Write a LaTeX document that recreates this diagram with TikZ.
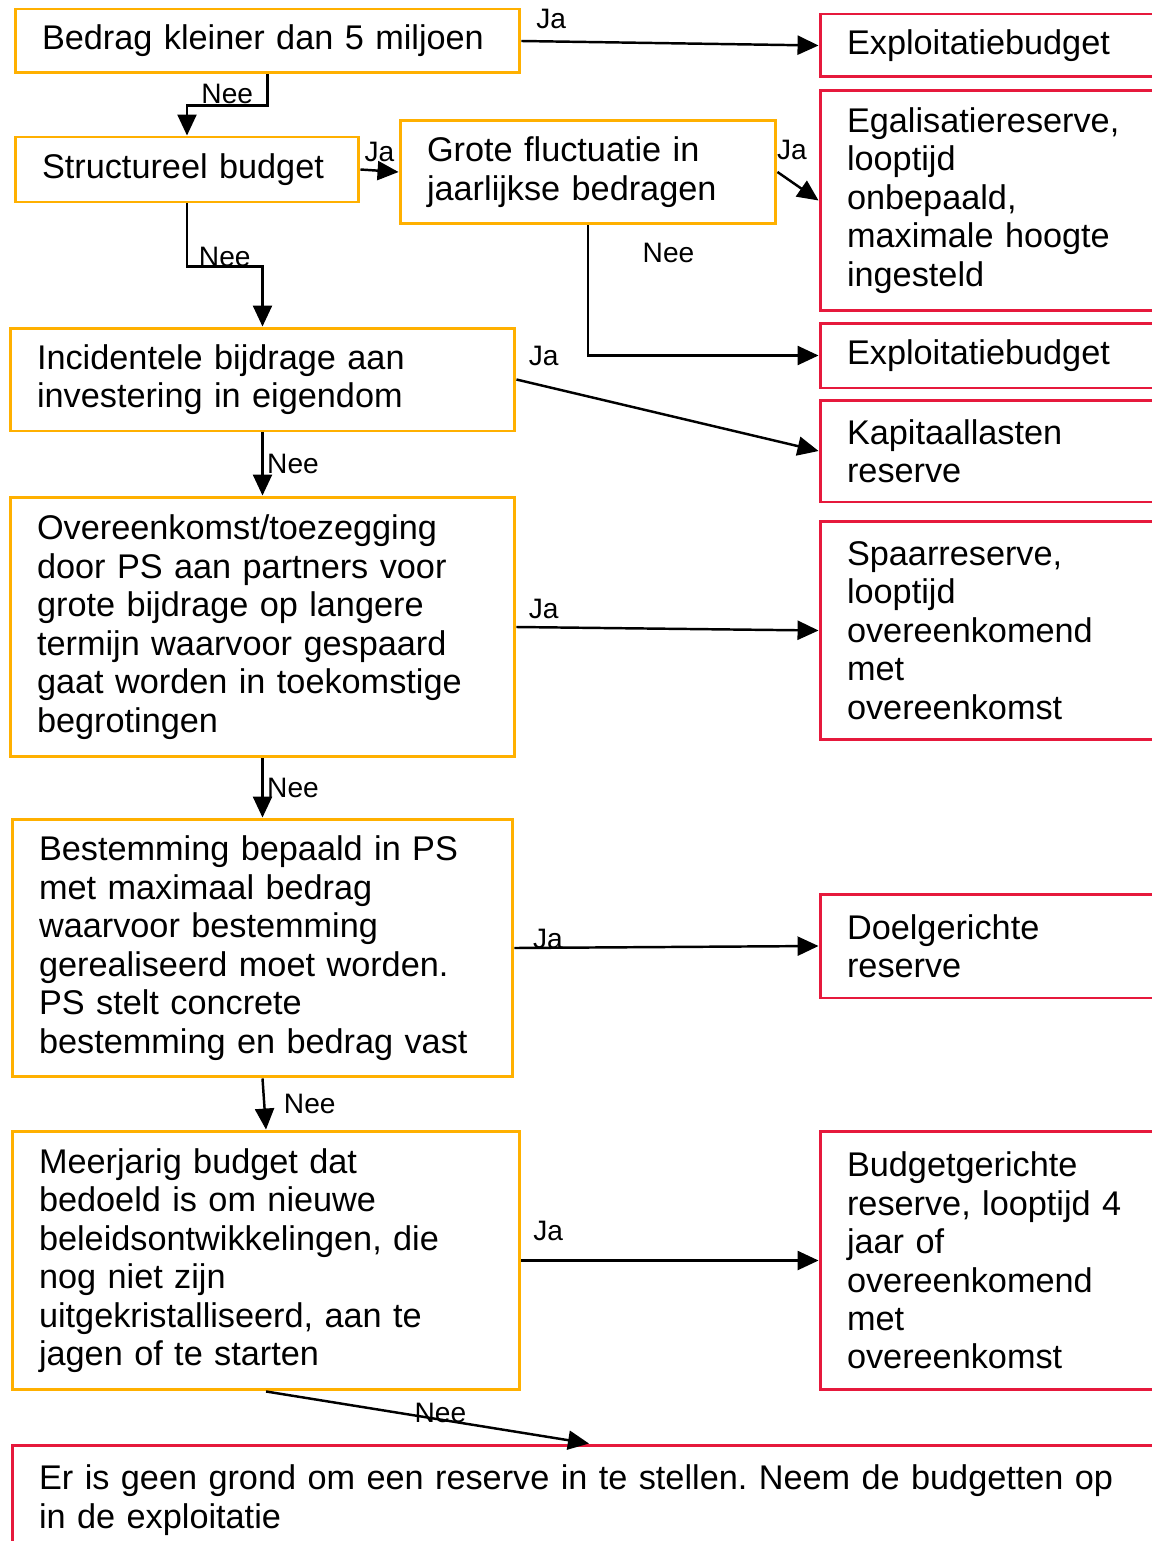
\documentclass[tikz,border=0pt]{standalone}
\usepackage{fontspec}
\setmainfont{Liberation Sans}
\usepackage{xcolor}
\definecolor{kvorange}{RGB}{255,176,0}
\definecolor{kvred}{RGB}{230,25,60}
\usetikzlibrary{arrows.meta,positioning}
\newcommand{\kvboxfont}{\fontsize{19.5}{21.9}\selectfont\frenchspacing}
\newcommand{\kvlblfont}{\fontsize{16}{18}\selectfont}

\begin{document}
\begin{tikzpicture}[x=0.02cm,y=-0.02cm,
  kvvraag/.style={draw=kvorange,line width=1.7pt,align=left,inner xsep=0.54cm,
    inner ysep=0.1cm,font=\kvboxfont},
  kvuitkomst/.style={draw=kvred,line width=1.7pt,align=left,inner xsep=0.54cm,
    inner ysep=0.1cm,text width=6.4cm,font=\kvboxfont},
  kvpijl/.style={-{Triangle[length=0.42cm,width=0.38cm]},line width=1.4pt},
  kvlbl/.style={font=\kvlblfont,inner sep=2pt}
]
  \useasboundingbox (0,0) rectangle (1152,1541);
  \clip (0,0) rectangle (1152,1541);
  % Vraag 1: Bedrag
  \node[kvvraag,text width=9.02cm,minimum height=1.28cm] (q1) at (267.5,41) {%
    Bedrag kleiner dan 5 miljoen};
  % Vraag 2: Structureel
  \node[kvvraag,text width=5.8cm,minimum height=1.3cm] (q2) at (187,169.5) {%
    Structureel budget};
  % Vraag 3: Fluctuatie
  \node[kvvraag,text width=6.44cm,minimum height=2.08cm] (q3) at (588,172) {%
    Grote fluctuatie in\\jaarlijkse bedragen};
  % Vraag 4: Investering
  \node[kvvraag,text width=9.02cm,minimum height=2.06cm] (q4) at (262.5,379.5) {%
    Incidentele bijdrage aan\\investering in eigendom};
  % Vraag 5: Overeenkomst
  \node[kvvraag,text width=9.02cm,minimum height=5.2cm] (q5) at (262.5,627) {%
    Overeenkomst/toezegging\\door PS aan partners voor\\grote bijdrage op langere\\%
    termijn waarvoor gespaard\\gaat worden in toekomstige\\begrotingen};
  % Vraag 6: Bestemming
  \node[kvvraag,text width=8.94cm,minimum height=5.16cm] (q6) at (262.5,948) {%
    Bestemming bepaald in PS\\met maximaal bedrag\\waarvoor bestemming\\%
    gerealiseerd moet worden.\\PS stelt concrete\\bestemming en bedrag vast};
  % Vraag 7: Meerjarig budget
  \node[kvvraag,text width=9.08cm,minimum height=5.18cm] (q7) at (266,1260.5) {%
    Meerjarig budget dat\\bedoeld is om nieuwe\\beleidsontwikkelingen, die\\%
    nog niet zijn\\uitgekristalliseerd, aan te\\jagen of te starten};

  % Uitkomsten
  \node[kvuitkomst,minimum height=1.26cm] (r1) at (1007,45.5) {Exploitatiebudget};
  \node[kvuitkomst,minimum height=4.42cm] (r2) at (1007,200.5) {%
    Egalisatiereserve,\\looptijd\\onbepaald,\\maximale hoogte\\ingesteld};
  \node[kvuitkomst,minimum height=1.3cm] (r3) at (1007,355.5) {Exploitatiebudget};
  \node[kvuitkomst,minimum height=2.04cm] (r4) at (1007,451) {%
    Kapitaallasten\\reserve};
  \node[kvuitkomst,minimum height=4.38cm] (r5) at (1007,630.5) {%
    Spaarreserve,\\looptijd\\overeenkomend\\met\\overeenkomst};
  \node[kvuitkomst,minimum height=2.08cm] (r6) at (1007,946) {%
    Doelgerichte\\reserve};
  \node[kvuitkomst,minimum height=5.18cm] (r7) at (1007,1260.5) {%
    Budgetgerichte\\reserve, looptijd 4\\jaar of\\overeenkomend\\met\\overeenkomst};
  % Geen reserve
  \node[kvuitkomst,text width=22cm,minimum height=2.2cm] (geen) at (589,1500) {%
    Er is geen grond om een reserve in te stellen. Neem de budgetten op\\%
    in de exploitatie};

  % Ja-pijlen
  \draw[kvpijl] (q1.east) -- node[kvlbl,pos=0.1,above=0.15cm] {Ja} (r1.west);
  \draw[kvpijl] (q2.east) -- node[kvlbl,midway,above=0.08cm] {Ja} (q3.west);
  \draw[kvpijl] (q3.east) -- node[kvlbl,pos=0.35,above=0.35cm] {Ja} (r2.west);
  \draw[kvpijl] (q4.east) -- node[kvlbl,pos=0.09,above=0.3cm] {Ja} (r4.west);
  \draw[kvpijl] (q5.east) -- node[kvlbl,pos=0.09,above=0.08cm] {Ja} (r5.west);
  \draw[kvpijl] (q6.east) -- node[kvlbl,pos=0.11,above=-0.12cm] {Ja} (r6.west);
  \draw[kvpijl] (q7.east) -- node[kvlbl,pos=0.09,above=0.3cm] {Ja} (r7.west);
  % Nee-pijlen
  \draw[kvpijl] (q1.south) -- ++(0,31) -| node[kvlbl,pos=0.25,above=-0.07cm] {Nee} (q2.north);
  \draw[kvpijl] (q2.south) -- ++(0,63) -| node[kvlbl,pos=0.25,above=-0.1cm] {Nee} (q4.north);
  \draw[kvpijl] (q3.south) |- node[kvlbl,pos=0.107,right=1cm] {Nee} (r3.west);
  \draw[kvpijl] (q4.south) -- node[kvlbl,midway,right=0cm] {Nee} (q5.north);
  \draw[kvpijl] (q5.south) -- node[kvlbl,midway,right=0cm] {Nee} (q6.north);
  \draw[kvpijl] (q6.south) -- node[kvlbl,midway,right=0.3cm] {Nee} (q7.north);
  \draw[kvpijl] (q7.south) -- node[kvlbl,pos=0.54,above=-0.15cm] {Nee} (geen.north);
\end{tikzpicture}
\end{document}
